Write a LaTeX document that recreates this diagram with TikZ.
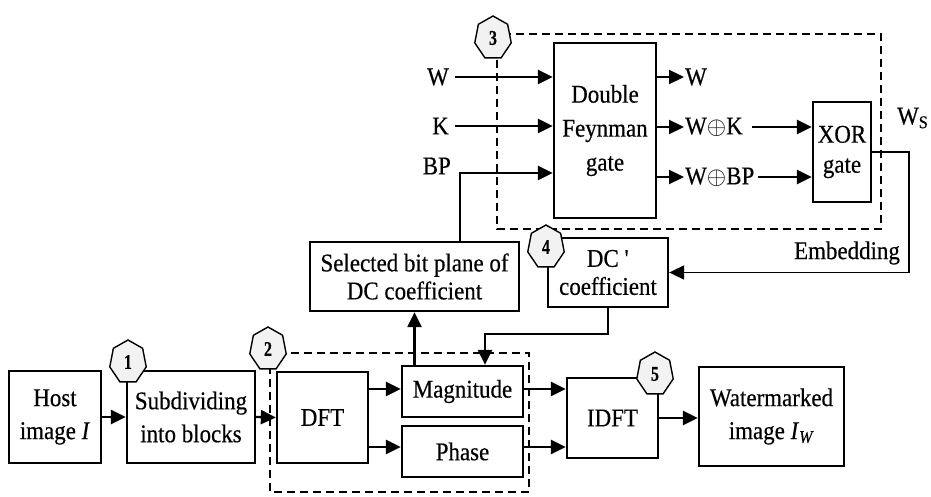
\documentclass[tikz,border=0pt]{standalone}
\usepackage{fontspec}
\setmainfont[FakeStretch=0.9, FakeBold=0.4]{Liberation Serif}
\usetikzlibrary{arrows.meta, positioning, calc, shapes.geometric}

\tikzset{
  box/.style={draw, line width=2.3pt, align=center, inner sep=2pt},
  badge/.style={draw, line width=1.4pt, regular polygon, regular polygon sides=7,
    fill=gray!10, minimum size=44pt, inner sep=0pt, xscale=0.85,
    font=\fontsize{21}{21}\selectfont\bfseries},
  arr/.style={line width=2.3pt, -{Triangle[length=15pt,width=14pt]}},
  dashbox/.style={line width=2.3pt, dash pattern=on 8pt off 5pt},
  lbl/.style={inner sep=1pt}
}

\begin{document}
\begin{tikzpicture}[x=1pt, y=-1pt, font=\fontsize{25.5}{33}\selectfont]
    \useasboundingbox (0,0) rectangle (931,497);

    % dashed groups
    \draw[dashbox] (270,353) rectangle (529,492);
    \draw[dashbox] (497,34) rectangle (881,229);

    % bottom row
    \node[box, minimum width=92pt, minimum height=92pt] (host) at (55,417) {Host\\image \textit{I}};
    \node[box, minimum width=128pt, minimum height=92pt] (subdiv) at (191,417) {Subdividing\\into blocks};
    \node[box, minimum width=91pt, minimum height=91pt] (dft) at (322.5,417.5) {DFT};
    \node[box, minimum width=121pt, minimum height=51pt] (mag) at (462.5,391.5) {Magnitude};
    \node[box, minimum width=121pt, minimum height=51pt] (phase) at (462.5,451.5) {Phase};
    \node[box, minimum width=91pt, minimum height=80pt] (idft) at (612.5,418) {IDFT};
    \node[box, minimum width=145pt, minimum height=99pt] (wm) at (771.5,416.5) {Watermarked\\image \textit{I}\textsubscript{\textit{W}}};

    % middle row
    \node[box, minimum width=209pt, minimum height=69pt, font=\fontsize{25.5}{28}\selectfont] (sel) at (414.5,276.5) {Selected bit plane of\\DC coefficient};
    \node[box, minimum width=120pt, minimum height=69pt, font=\fontsize{25.5}{28}\selectfont] (dcp) at (608,272.5) {DC \textquotesingle\\coefficient};

    % embedding part
    \node[box, minimum width=102pt, minimum height=175pt, font=\fontsize{25.5}{34}\selectfont] (feyn) at (605,130.5) {Double\\Feynman\\gate};
    \node[box, minimum width=58pt, minimum height=100pt, inner sep=0pt, font=\fontsize{25.5}{30}\selectfont] (xor) at (842,152) {XOR\\gate};

    \node[lbl, anchor=east] (inW) at (450,77) {W};
    \node[lbl, anchor=east] (inK) at (450,126) {K};
    \node[lbl, anchor=east] (inBP) at (452,166) {BP};

    \node[lbl, anchor=west] (oW) at (684,77) {W};
    \node[lbl, anchor=west] (oWK) at (684,127) {W$\oplus$K};
    \node[lbl, anchor=west] (oWBP) at (684,177) {W$\oplus$BP};

    \node[lbl, anchor=west] (ws) at (896,118) {W\textsubscript{S}};
    \node[lbl] (emb) at (847,253) {Embedding};

    % connectors
    \draw[arr] (host) -- (subdiv);
    \draw[arr] (subdiv.east) -- (dft.west);
    \draw[arr] (dft.east |- 0,389) -- (mag.west |- 0,389);
    \draw[arr] (dft.east |- 0,447) -- (phase.west |- 0,447);
    \draw[arr] (mag.east |- 0,389) -- (idft.west |- 0,389);
    \draw[arr] (phase.east |- 0,447) -- (idft.west |- 0,447);
    \draw[arr] (idft.east) -- (idft.east -| wm.west);

    \draw[arr] (mag.north -| sel.south) -- (sel.south);
    \draw[arr] (dcp.south) -- ++(0,26) -| ([xshift=22.5pt]mag.north);

    \draw[arr] ([xshift=5pt]inW.east) -- (feyn.west |- inW.east);
    \draw[arr] ([xshift=5pt]inK.east) -- (feyn.west |- inK.east);
    \draw[arr] ([xshift=45.5pt]sel.north) |- (feyn.west |- 0,173);

    \draw[arr] (feyn.east |- oW.west) -- (oW.west);
    \draw[arr] (feyn.east |- oWK.west) -- (oWK.west);
    \draw[arr] (feyn.east |- oWBP.west) -- (oWBP.west);
    \draw[arr] ([xshift=8pt]oWK.east) -- (xor.west |- oWK.east);
    \draw[arr] ([xshift=3pt]oWBP.east) -- (xor.west |- oWBP.east);

    \draw[arr, line width=1.8pt] (xor.east) -- ++(37,0) |- (dcp.east);

    % step badges
    \node[badge] (b1) at (128,362) {1};
    \node[badge] (b2) at (268,349) {2};
    \node[badge] (b3) at (493,38) {3};
    \node[badge] (b4) at (546,247) {4};
    \node[badge] (b5) at (655,374) {5};
\end{tikzpicture}
\end{document}
